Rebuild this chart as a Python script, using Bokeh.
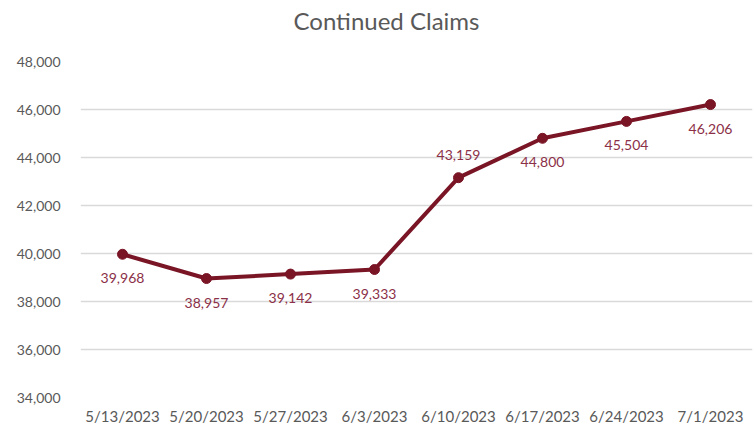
from bokeh.plotting import figure
from bokeh.models import ColumnDataSource, Range1d, FixedTicker, NumeralTickFormatter, Title
from bokeh.core.properties import value
from bokeh.embed import file_html
from bokeh.resources import INLINE

weeks = ["5/13/2023", "5/20/2023", "5/27/2023", "6/3/2023",
         "6/10/2023", "6/17/2023", "6/24/2023", "7/1/2023"]
claims = [39968, 38957, 39142, 39333, 43159, 44800, 45504, 46206]
label_side = ["below", "below", "below", "below", "above", "below", "below", "below"]
y_ticks = [34000, 36000, 38000, 40000, 42000, 44000, 46000, 48000]
title_text = "Continued Claims"

FONT = "Lato"
LINE_COLOR = "#7a1526"
LABEL_COLOR = "#8b3048"
GRAY = "#595959"

idx = list(range(len(weeks)))
src = ColumnDataSource(dict(
    x=idx, y=claims,
    lbl=[f"{v:,}" for v in claims],
    yoff=[24 if s == "below" else -23 for s in label_side],
))

p = figure(width=755, height=428, output_backend="svg", toolbar_location=None,
           x_range=Range1d(-0.5, 7.5), y_range=Range1d(34000, 48000),
           min_border_left=80, min_border_right=3, min_border_top=61,
           min_border_bottom=31, outline_line_color=None)

p.title.text = title_text
p.title.align = "left"
p.title.offset = 213
p.title.vertical_align = "bottom"
p.title.standoff = 0
p.title.text_font = FONT
p.title.text_font_size = "24px"
p.title.text_font_style = "normal"
p.title.text_color = GRAY

# empty spacer between title and plot area
p.add_layout(Title(text=" ", text_font_size="1px", standoff=24), "above")

p.line("x", "y", source=src, line_color=LINE_COLOR, line_width=4)
p.scatter("x", "y", source=src, size=10, fill_color=LINE_COLOR, line_color=LINE_COLOR)
p.text("x", "y", text="lbl", source=src, y_offset="yoff", text_align="center",
       text_baseline="middle", text_font=value(FONT), text_font_size="14px",
       text_color=LABEL_COLOR)

p.xgrid.grid_line_color = None
p.ygrid.grid_line_color = "#d9d9d9"
p.ygrid.grid_line_width = 1.5

p.yaxis.ticker = FixedTicker(ticks=y_ticks)
p.yaxis.formatter = NumeralTickFormatter(format="0,0")
p.xaxis.ticker = FixedTicker(ticks=idx)
p.xaxis.major_label_overrides = {i: w for i, w in enumerate(weeks)}

for ax in (p.xaxis, p.yaxis):
    ax.axis_line_color = None
    ax.major_tick_line_color = None
    ax.minor_tick_line_color = None
    ax.major_label_text_font = FONT
    ax.major_label_text_color = GRAY
p.yaxis.major_label_text_font_size = "14px"
p.xaxis.major_label_text_font_size = "15px"
p.yaxis.major_label_standoff = 14
p.xaxis.major_label_standoff = 3

open("out.html", "w").write(file_html(p, INLINE))
